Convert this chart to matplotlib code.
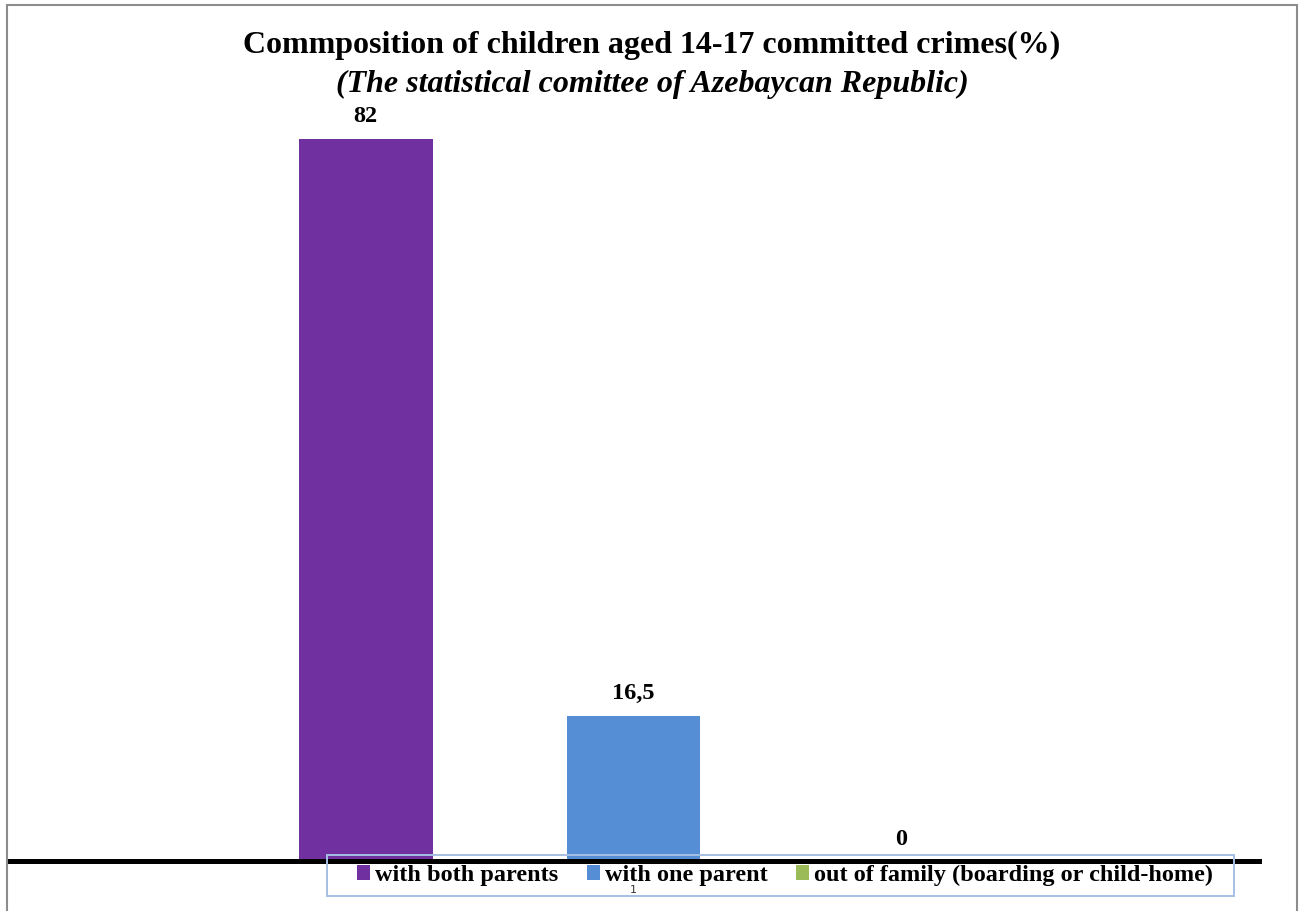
import matplotlib
matplotlib.use("Agg")
import matplotlib.pyplot as plt
from matplotlib.patches import Rectangle

# ---- data ----
categories = ["1"]
series_names = ["with both parents", "with one parent", "out of family (boarding or child-home)"]
series_values = [82, 16.5, 0]
value_labels = ["82", "16,5", "0"]
colors = ["#7030A0", "#558ED5", "#9BBB59"]

title = "Commposition of children aged 14-17 committed crimes(%)"
subtitle = "(The statistical comittee of Azebaycan Republic)"

plt.rcParams['font.family'] = ['Liberation Serif', 'DejaVu Serif']

W, H = 1304, 911
fig = plt.figure(figsize=(W / 100, H / 100), dpi=100)

# axes placement (pixels -> figure fraction)
ax_left, ax_right = 8, 1259
ax_top, ax_bottom = 100, 861.3
ax = fig.add_axes([ax_left / W, (H - ax_bottom) / H, (ax_right - ax_left) / W, (ax_bottom - ax_top) / H])

n = len(series_values)
positions = list(range(n))
center = (n - 1) / 2
for i, (name, v, c) in enumerate(zip(series_names, series_values, colors)):
    ax.bar(positions[i], v, width=0.5, color=c, label=name, zorder=3)
    ax.annotate(value_labels[i], (positions[i], v), xytext=(0, 16), textcoords="offset points",
                ha="center", va="center", fontsize=17.5, fontweight="bold", clip_on=False)

half = 2.334
ax.set_xlim(center - half, center + half)
ax.set_ylim(0, 86.42)

for s in ["top", "right", "left"]:
    ax.spines[s].set_visible(False)
ax.spines["bottom"].set_linewidth(3.6)
ax.spines["bottom"].set_color("black")
ax.spines["bottom"].set_zorder(5)
ax.set_yticks([])
ax.set_xticks([center])
ax.set_xticklabels(categories, fontsize=8, family="DejaVu Sans", color="#333333")
ax.tick_params(axis="x", length=0, pad=17)

leg = ax.legend(loc="center", bbox_to_anchor=(785 / W, (H - 875.5) / H), bbox_transform=fig.transFigure,
                ncol=3, frameon=False,
                prop={"weight": "bold", "size": 17.5},
                handlelength=0.54, handleheight=0.58, handletextpad=0.22, columnspacing=1.15,
                borderpad=0.3)
leg.set_zorder(1)

# legend frame (light blue box)
fig.add_artist(Rectangle((327 / W, (H - 896) / H), (1234 - 327) / W, (896 - 855) / H,
                         transform=fig.transFigure, fill=False, edgecolor="#A6BFE3",
                         linewidth=1.4, zorder=0.5))

fig.text(0.5, (H - 45) / H, title, ha="center", va="center", fontsize=23, fontweight="bold")
fig.text(0.5, (H - 84) / H, subtitle, ha="center", va="center", fontsize=23, fontweight="bold", style="italic")

# figure border (grey lines left, top, right)
fig.add_artist(Rectangle((7 / W, -0.05), (1297 - 7) / W, (H - 5) / H + 0.05, transform=fig.transFigure,
                         fill=False, edgecolor="#8c8c8c", linewidth=1.5))

fig.savefig("out.png", dpi=100)
